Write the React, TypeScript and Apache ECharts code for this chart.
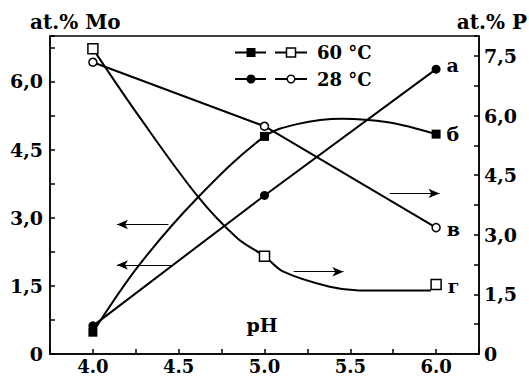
import React, { useEffect, useRef } from "react";
import * as echarts from "echarts";

// pH of the measured points
const pH = [4.0, 5.0, 6.0];
// left axis, at.% Mo
const moA = [0.62, 3.49, 6.27]; // а : 28 °C, filled circles
const moB = [0.48, 4.79, 4.84]; // б : 60 °C, filled squares
// right axis, at.% P
const pV = [7.34, 5.73, 3.18]; // в : 28 °C, open circles
const pG = [7.68, 2.46, 1.75]; // г : 60 °C, open squares

// traced smooth curves
const bCurvePH = [4.0, 4.27, 4.61, 5.0, 5.19, 5.45, 5.72, 6.0];
const bCurveMo = [0.48, 1.96, 3.44, 4.79, 5.06, 5.18, 5.1, 4.84];
const gCurvePH = [4.02, 4.27, 4.61, 4.84, 5.0, 5.11, 5.38, 5.55, 5.97];
const gCurveP = [7.55, 5.97, 3.97, 2.92, 2.46, 2.07, 1.69, 1.6, 1.6];

// arrows: [start, end] in data units
const arrowsLeft = [
  [[4.44, 2.85], [4.14, 2.85]],
  [[4.46, 1.96], [4.14, 1.96]],
];
const arrowsRight = [
  [[5.73, 4.04], [6.02, 4.04]],
  [[5.17, 2.07], [5.46, 2.07]],
];

const curveLabels = ["а", "б", "в", "г"];
const legendLabels = ["60 °C", "28 °C"];
const axisTitles = ["at.% Mo", "at.% P"];
const xName = "pH";

const FONT = "DejaVu Serif";

const pairs = (xs: number[], ys: number[]) => xs.map((x, i) => [x, ys[i]]);

const yFmt = (v: number) => {
  const k = v / 1.5;
  if (Math.abs(k - Math.round(k)) > 1e-6) return "";
  if (Math.abs(v) < 1e-9) return "0";
  return v.toFixed(1).replace(".", ",");
};
const xFmt = (v: number) => {
  const k = v * 2;
  if (Math.abs(k - Math.round(k)) > 1e-6) return "";
  if (v < 3.99 || v > 6.01) return "";
  return v.toFixed(1);
};

const lastLabel = (txt: string, offsetY = 0) => ({
  show: true,
  position: "right",
  distance: 6,
  offset: [0, offsetY],
  color: "#000",
  fontFamily: FONT,
  fontWeight: "bold",
  fontSize: 19,
  formatter: (p: any) => (p.dataIndex === 2 ? txt : ""),
});

const arrowMark = (list: number[][][]) => ({
  silent: true,
  animation: false,
  symbol: ["none", "arrow"],
  symbolSize: [7, 11],
  label: { show: false },
  lineStyle: { color: "#000", width: 1.2, type: "solid", opacity: 1 },
  itemStyle: { color: "#000", opacity: 1 },
  emphasis: { disabled: true },
  data: list.map((a) => [{ coord: a[0] }, { coord: a[1] }]),
});

export default function App() {
  const ref = useRef<HTMLDivElement>(null);
  useEffect(() => {
    document.body.style.margin = "0";
    const chart = echarts.init(ref.current!, undefined, { renderer: "svg" });
    const axisCommon = {
      axisLine: { show: true, lineStyle: { color: "#000", width: 1.5 } },
      axisTick: { show: true, inside: true, length: 5, lineStyle: { color: "#000", width: 1.5 } },
      splitLine: { show: false },
      axisLabel: {
        color: "#000",
        fontFamily: FONT,
        fontWeight: "bold",
        fontSize: 19,
      },
    };
    const tStyle = { fontFamily: FONT, fontWeight: "bold", fill: "#000" };
    chart.setOption({
      animation: false,
      backgroundColor: "#fff",
      grid: {
        left: 50,
        right: 50,
        top: 36,
        bottom: 24,
        show: true,
        borderColor: "#000",
        borderWidth: 1.5,
        containLabel: false,
        outerBoundsMode: "none",
      },
      xAxis: {
        type: "value",
        min: 3.75,
        max: 6.25,
        interval: 0.25,
        ...axisCommon,
        axisLabel: { ...axisCommon.axisLabel, fontSize: 18, margin: 2, lineHeight: 20, formatter: xFmt },
      },
      yAxis: [
        {
          type: "value",
          position: "left",
          min: 0,
          max: 7,
          interval: 0.75,
          ...axisCommon,
          axisLabel: { ...axisCommon.axisLabel, margin: 7, formatter: yFmt },
        },
        {
          type: "value",
          position: "right",
          min: 0,
          max: 8,
          interval: 0.75,
          ...axisCommon,
          axisLabel: { ...axisCommon.axisLabel, margin: 5, formatter: yFmt },
        },
      ],
      series: [
        {
          type: "line",
          yAxisIndex: 0,
          data: pairs(pH, moA),
          symbol: "circle",
          symbolSize: 9,
          itemStyle: { color: "#000", opacity: 1 },
          lineStyle: { color: "#000", width: 2 },
          label: lastLabel(curveLabels[0], -4),
          z: 3,
        },
        {
          type: "line",
          yAxisIndex: 0,
          data: pairs(bCurvePH, bCurveMo),
          smooth: 0.35,
          symbol: "none",
          lineStyle: { color: "#000", width: 2 },
          markLine: arrowMark(arrowsLeft),
          z: 2,
        },
        {
          type: "scatter",
          yAxisIndex: 0,
          data: pairs(pH, moB),
          symbol: "rect",
          symbolSize: 9,
          itemStyle: { color: "#000", opacity: 1 },
          label: lastLabel(curveLabels[1]),
          z: 4,
        },
        {
          type: "line",
          yAxisIndex: 1,
          data: pairs(pH, pV),
          symbol: "circle",
          symbolSize: 8,
          itemStyle: { color: "#fff", borderColor: "#000", borderWidth: 1.5, opacity: 1 },
          lineStyle: { color: "#000", width: 2 },
          label: lastLabel(curveLabels[2], 1),
          z: 3,
        },
        {
          type: "line",
          yAxisIndex: 1,
          data: pairs(gCurvePH, gCurveP),
          smooth: 0.35,
          symbol: "none",
          lineStyle: { color: "#000", width: 2 },
          markLine: arrowMark(arrowsRight),
          z: 2,
        },
        {
          type: "scatter",
          yAxisIndex: 1,
          data: pairs(pH, pG),
          symbol: "rect",
          symbolSize: 10,
          itemStyle: { color: "#fff", borderColor: "#000", borderWidth: 1.5, opacity: 1 },
          label: lastLabel(curveLabels[3], 2),
          z: 4,
        },
      ],
      graphic: [
        { type: "text", left: 30, top: 12, style: { ...tStyle, text: axisTitles[0], fontSize: 20 } },
        { type: "text", right: 2, top: 12, style: { ...tStyle, text: axisTitles[1], fontSize: 20 } },
        {
          type: "text",
          x: 262,
          y: 325,
          style: { ...tStyle, text: xName, fontSize: 19, align: "center", verticalAlign: "middle" },
        },
        // legend row 1
        { type: "line", shape: { x1: 235, y1: 52.5, x2: 266, y2: 52.5 }, style: { stroke: "#000", lineWidth: 2 } },
        { type: "rect", shape: { x: 246.5, y: 48, width: 9, height: 9 }, style: { fill: "#000" } },
        { type: "line", shape: { x1: 275, y1: 52.5, x2: 307, y2: 52.5 }, style: { stroke: "#000", lineWidth: 2 } },
        {
          type: "rect",
          shape: { x: 286.5, y: 48, width: 9, height: 9 },
          style: { fill: "#fff", stroke: "#000", lineWidth: 1.5 },
        },
        {
          type: "text",
          x: 317,
          y: 52.5,
          style: { ...tStyle, text: legendLabels[0], fontSize: 18, verticalAlign: "middle" },
        },
        // legend row 2
        { type: "line", shape: { x1: 235, y1: 79, x2: 266, y2: 79 }, style: { stroke: "#000", lineWidth: 2 } },
        { type: "circle", shape: { cx: 251, cy: 79, r: 4.5 }, style: { fill: "#000" } },
        { type: "line", shape: { x1: 275, y1: 79, x2: 307, y2: 79 }, style: { stroke: "#000", lineWidth: 2 } },
        {
          type: "circle",
          shape: { cx: 291, cy: 79, r: 3.8 },
          style: { fill: "#fff", stroke: "#000", lineWidth: 1.5 },
        },
        {
          type: "text",
          x: 317,
          y: 79,
          style: { ...tStyle, text: legendLabels[1], fontSize: 18, verticalAlign: "middle" },
        },
      ],
    });
    return () => chart.dispose();
  }, []);
  return (
    <div
      ref={ref}
      style={{ position: "fixed", left: 0, top: 0, width: 529, height: 378, background: "#fff" }}
    />
  );
}
